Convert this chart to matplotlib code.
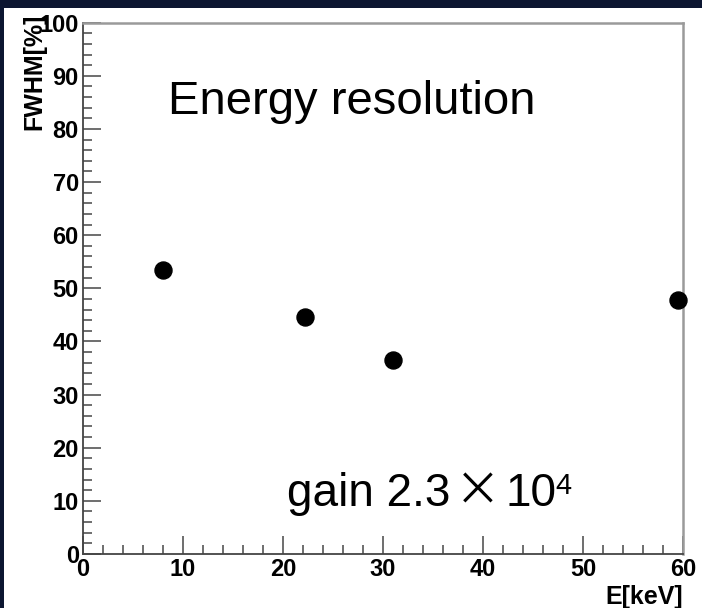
import matplotlib
matplotlib.use("Agg")
import matplotlib.pyplot as plt
from matplotlib.patches import Rectangle
from matplotlib.ticker import MultipleLocator

# measured resolution vs. energy
energy_kev = [8.0, 22.2, 31.0, 59.5]
fwhm_pct = [53.4, 44.6, 36.6, 47.8]

x_ticks = [0, 10, 20, 30, 40, 50, 60]
y_ticks = [0, 10, 20, 30, 40, 50, 60, 70, 80, 90, 100]

W, H = 702, 608
plt.rcParams["font.family"] = ["Liberation Sans", "DejaVu Sans"]

fig = plt.figure(figsize=(W / 100, H / 100), dpi=100, facecolor="#0c1631")
fig.patches.append(Rectangle((4 / W, 0), 1, 1 - 8 / H, transform=fig.transFigure,
                             facecolor="white", edgecolor="none", zorder=-1))

ax = fig.add_axes([83 / W, 1 - 554 / H, 600 / W, (554 - 22.7) / H])
ax.scatter(energy_kev, fwhm_pct, s=150, color="black", zorder=3, clip_on=False)

ax.set_xlim(0, 60)
ax.set_ylim(0, 100)
ax.set_xticks(x_ticks)
ax.set_yticks(y_ticks)
ax.xaxis.set_minor_locator(MultipleLocator(2))
ax.yaxis.set_minor_locator(MultipleLocator(2))
ax.tick_params(which="both", direction="in", color="#555555", width=1.2,
               labelsize=17, top=False, right=False)
ax.tick_params(which="major", length=13, pad=3)
ax.tick_params(which="minor", length=6.5)
for lab in ax.get_xticklabels() + ax.get_yticklabels():
    lab.set_fontweight("bold")

for side in ("left", "bottom"):
    ax.spines[side].set_color("#444444")
    ax.spines[side].set_linewidth(1.3)
for side in ("top", "right"):
    ax.spines[side].set_color("#9a9a9a")
    ax.spines[side].set_linewidth(1.8)

ax.text(8.5, 82.8, "Energy resolution", fontsize=34, va="baseline", ha="left")

# gain annotation: "gain 2.3 x 10^4"
t1 = ax.text(20.4, 9.0, "gain 2.3", fontsize=33, va="baseline", ha="left")
t2 = ax.annotate("\u00d7", xy=(1, 0), xycoords=t1, xytext=(3, 0), textcoords="offset points",
                 fontsize=33, family="Noto Sans CJK JP", va="bottom", ha="left")
t3 = ax.annotate("10", xy=(1, 0), xycoords=t2, xytext=(4, 0), textcoords="offset points",
                 fontsize=33, va="bottom", ha="left")
ax.annotate("4", xy=(1, 0), xycoords=t3, xytext=(-1, 12), textcoords="offset points",
            fontsize=21, va="bottom", ha="left")

fig.text(34 / W, 1 - 14 / H, "FWHM[%]", rotation=90, fontsize=18, fontweight="bold",
         ha="center", va="top")
fig.text(683 / W, 1 - 585 / H, "E[keV]", fontsize=18, fontweight="bold",
         ha="right", va="top")

fig.savefig("out.png", dpi=100, facecolor=fig.get_facecolor())
